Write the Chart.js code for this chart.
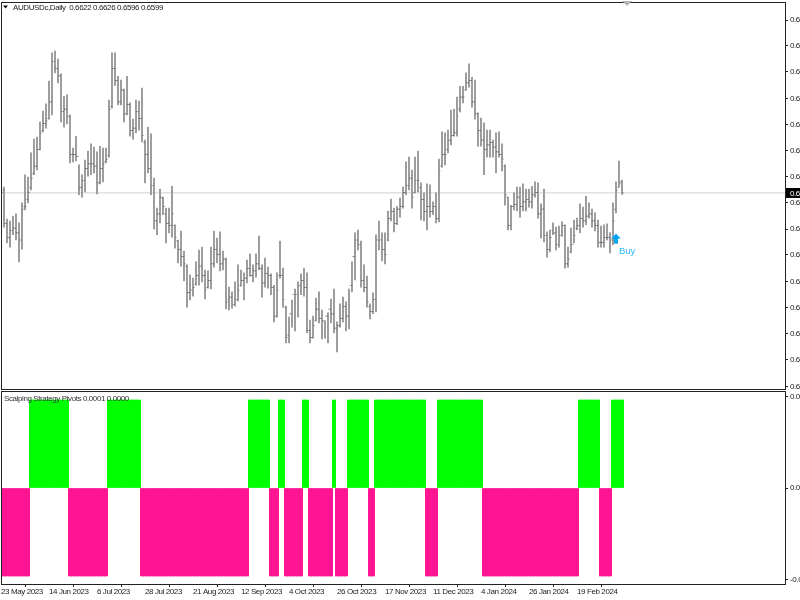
<!DOCTYPE html>
<html>
<head>
<meta charset="utf-8">
<title>AUDUSDc,Daily</title>
<script src="https://cdn.jsdelivr.net/npm/chart.js@4"></script>
<style>
html, body { margin: 0; background: #fff; }
canvas { position: absolute; left: 0; }
#priceChart { top: 0; }
#pivotChart { top: 391px; }
</style>
</head>
<body>
<canvas id="priceChart" width="800" height="391"></canvas>
<canvas id="pivotChart" width="800" height="209"></canvas>
<script>
// prices in points (0.6897 = 6897), one entry per daily bar
const highPts = [6658,6611,6544,6540,6550,6555,6536,6578,6637,6632,6683,6712,6716,6748,6771,6786,6834,6893,6897,6880,
  6849,6802,6805,6763,6693,6718,6658,6637,6668,6687,6702,6695,6685,6697,6693,6693,6794,6893,6893,6844,
  6836,6817,6844,6788,6754,6794,6792,6819,6710,6737,6723,6630,6567,6607,6590,6567,6567,6613,6532,6500,
  6519,6477,6448,6427,6420,6454,6479,6485,6437,6435,6485,6519,6504,6517,6477,6462,6401,6391,6412,6448,
  6437,6431,6458,6471,6448,6471,6508,6448,6462,6443,6429,6405,6431,6498,6441,6361,6338,6374,6397,6412,
  6429,6441,6431,6332,6340,6378,6391,6353,6330,6347,6376,6397,6328,6366,6380,6370,6397,6454,6515,6521,
  6498,6448,6424,6366,6389,6511,6540,6515,6515,6561,6586,6567,6571,6588,6611,6664,6674,6647,6674,6687,
  6620,6599,6618,6616,6580,6599,6670,6727,6725,6731,6773,6775,6800,6823,6823,6851,6870,6842,6836,6767,
  6756,6746,6731,6731,6710,6725,6727,6702,6658,6590,6573,6599,6611,6611,6618,6607,6607,6613,6622,6620,
  6576,6607,6517,6521,6536,6527,6529,6538,6532,6485,6525,6542,6546,6576,6569,6592,6578,6565,6557,6542,
  6529,6532,6534,6515,6578,6622,6666,6626];
const lowPts = [6553,6527,6494,6485,6511,6500,6454,6481,6563,6578,6605,6637,6647,6689,6727,6735,6754,6763,6851,6830,
  6748,6737,6744,6662,6664,6666,6595,6590,6601,6634,6637,6641,6597,6618,6622,6662,6674,6777,6825,6784,
  6784,6748,6763,6718,6712,6725,6731,6706,6620,6641,6595,6523,6511,6536,6553,6494,6515,6506,6483,6452,
  6445,6414,6359,6374,6382,6405,6405,6412,6376,6399,6397,6443,6452,6435,6437,6355,6353,6357,6361,6372,
  6403,6374,6410,6424,6412,6422,6437,6380,6401,6399,6385,6328,6338,6420,6359,6284,6284,6317,6309,6338,
  6385,6382,6305,6284,6294,6330,6326,6292,6294,6284,6326,6305,6265,6317,6328,6309,6313,6391,6416,6479,
  6401,6391,6359,6334,6345,6349,6479,6456,6450,6498,6540,6517,6532,6548,6567,6595,6605,6567,6599,6601,
  6542,6540,6521,6548,6553,6536,6538,6653,6658,6683,6700,6718,6718,6769,6788,6815,6821,6779,6754,6697,
  6697,6637,6674,6674,6674,6641,6674,6645,6573,6521,6521,6563,6561,6548,6561,6561,6569,6567,6590,6546,
  6504,6496,6464,6475,6511,6479,6485,6508,6441,6443,6473,6494,6521,6515,6527,6532,6546,6527,6519,6485,
  6485,6485,6500,6473,6490,6557,6611,6596];
const openPts = [6640,6605,6535,6505,6520,6525,6515,6500,6570,6585,6610,6640,6655,6690,6730,6745,6755,6790,6875,6860,
  6845,6770,6775,6760,6680,6680,6675,6610,6625,6650,6660,6660,6655,6620,6650,6665,6678,6780,6860,6835,
  6790,6815,6765,6785,6730,6735,6770,6755,6705,6680,6650,6615,6540,6555,6588,6555,6535,6530,6530,6498,
  6480,6465,6445,6390,6395,6406,6425,6445,6425,6400,6415,6450,6480,6470,6450,6460,6375,6380,6365,6375,
  6405,6415,6420,6440,6425,6435,6450,6440,6410,6430,6425,6400,6340,6425,6425,6358,6300,6345,6385,6385,
  6405,6415,6400,6310,6295,6330,6355,6335,6330,6340,6355,6345,6315,6320,6335,6360,6340,6405,6465,6500,
  6490,6415,6400,6360,6350,6375,6500,6500,6480,6500,6545,6560,6535,6565,6570,6600,6615,6630,6600,6625,
  6610,6585,6560,6570,6560,6570,6545,6655,6680,6690,6710,6720,6725,6775,6800,6815,6830,6835,6790,6765,
  6730,6710,6690,6700,6705,6695,6685,6680,6655,6590,6530,6570,6575,6590,6570,6580,6585,6580,6595,6600,
  6555,6565,6510,6480,6520,6515,6490,6510,6530,6450,6475,6490,6525,6530,6545,6540,6550,6555,6540,6530,
  6495,6495,6505,6505,6500,6565,6610,6622];
const closePts = [6600,6535,6505,6520,6525,6515,6500,6565,6570,6600,6630,6655,6690,6725,6745,6750,6790,6875,6860,6845,
  6770,6775,6760,6680,6680,6675,6610,6625,6650,6660,6660,6655,6620,6650,6660,6670,6775,6860,6835,6790,
  6815,6765,6785,6730,6735,6770,6755,6720,6680,6650,6615,6540,6555,6590,6570,6535,6530,6555,6505,6480,
  6465,6450,6390,6395,6400,6425,6445,6425,6395,6415,6450,6480,6470,6450,6460,6370,6380,6365,6375,6395,
  6415,6420,6440,6425,6435,6450,6440,6410,6430,6425,6400,6340,6395,6425,6375,6295,6345,6385,6385,6405,
  6415,6400,6310,6295,6320,6355,6335,6330,6340,6355,6345,6315,6320,6335,6360,6340,6405,6465,6500,6490,
  6415,6400,6370,6350,6375,6500,6500,6480,6470,6545,6560,6535,6565,6570,6600,6615,6630,6590,6625,6625,
  6585,6560,6570,6560,6570,6545,6645,6680,6680,6710,6720,6725,6760,6800,6800,6830,6835,6790,6765,6730,
  6710,6690,6700,6705,6695,6685,6680,6670,6595,6530,6570,6575,6590,6570,6580,6585,6580,6595,6600,6555,
  6565,6510,6480,6505,6515,6490,6510,6530,6450,6460,6490,6510,6530,6545,6540,6550,6555,6540,6530,6495,
  6495,6505,6505,6500,6540,6605,6620,6599];

// indicator value of each bar, in units of 0.0001
const pivotVals = [-1,-1,-1,-1,-1,-1,-1,-1,-1,-1, 1,1,1,1,1,1,1,1,1,1,1,1,1,
  -1,-1,-1,-1,-1,-1,-1,-1,-1,-1,-1,-1,-1, 1,1,1,1,1,1,1,1,1,1,1,
  -1,-1,-1,-1,-1,-1,-1,-1,-1,-1,-1,-1,-1,-1,-1,-1,-1,-1,-1,-1,-1,-1,-1,-1,-1,-1,-1,-1,-1,-1,-1,-1,-1,-1,-1,-1,
  1,1,1,1,1,1,1, -1,-1,-1, 1,1, -1,-1,-1,-1,-1,-1, 1,1, -1,-1,-1,-1,-1,-1,-1,-1, 1, -1,-1,-1,-1,
  1,1,1,1,1,1,1, -1,-1, 1,1,1,1,1,1,1,1,1,1,1,1,1,1,1,1,1, -1,-1,-1,-1,
  1,1,1,1,1,1,1,1,1,1,1,1,1,1,1,
  -1,-1,-1,-1,-1,-1,-1,-1,-1,-1,-1,-1,-1,-1,-1,-1,-1,-1,-1,-1,-1,-1,-1,-1,-1,-1,-1,-1,-1,-1,-1,-1,
  1,1,1,1,1,1,1, -1,-1,-1,-1, 1,1,1,1];

const dateBars = [0,16,32,48,64,80,96,112,128,144,160,176,192];
const dateLabels = ['23 May 2023','14 Jun 2023','6 Jul 2023','28 Jul 2023','21 Aug 2023','12 Sep 2023','4 Oct 2023',
  '26 Oct 2023','17 Nov 2023','11 Dec 2023','4 Jan 2024','26 Jan 2024','19 Feb 2024'];
const priceTicks = [0.6962,0.6908,0.6853,0.6797,0.6742,0.6687,0.6633,0.6578,0.6523,0.6469,0.6413,0.6358,0.6303,0.6248,0.6192];
const pivotTicks = [0.000104,0,-0.000104];
const lastPrice = 0.6599;
const buyBar = 205;
const buyPrice = 0.6503;

const fontName = '"Liberation Sans"';
const axisFont = { family: fontName, size: 8 };
const inkColor = '#222';
const barsMax = 784 / 3;

// keep the panes where the terminal has them, whatever the labels measure
function fixedAxis(w, h) {
  return s => {
    if (w) s.width = w;
    if (h) s.height = h;
    s.paddingLeft = s.paddingRight = s.paddingTop = s.paddingBottom = 0;
  };
}

// little arrow for the Buy signal
const buyArrow = document.createElement('canvas');
buyArrow.width = 12; buyArrow.height = 12;
const ac = buyArrow.getContext('2d');
ac.fillStyle = '#00a5f5';
ac.beginPath();
ac.moveTo(6, 1); ac.lineTo(11, 6); ac.lineTo(8, 6); ac.lineTo(8, 11); ac.lineTo(4, 11); ac.lineTo(4, 6); ac.lineTo(1, 6);
ac.closePath();
ac.fill();

// terminal font is narrower than anything installed, so tighten the text
const tightText = {
  id: 'tightText',
  beforeDraw(chart) { chart.ctx.letterSpacing = '-0.4px'; }
};

const frame = {
  id: 'frame',
  afterDraw(chart) {
    const { ctx, chartArea: a } = chart;
    ctx.save();
    ctx.strokeStyle = inkColor;
    ctx.lineWidth = 1;
    ctx.strokeRect(a.left + 0.5, a.top + 0.5, a.right - a.left, a.bottom - a.top);
    ctx.restore();
  }
};

const priceNotes = {
  id: 'priceNotes',
  afterDraw(chart) {
    const { ctx, scales } = chart;
    ctx.save();
    ctx.fillStyle = '#111';
    ctx.beginPath();
    ctx.moveTo(3, 5.5); ctx.lineTo(8, 5.5); ctx.lineTo(5.5, 8.5);
    ctx.fill();
    ctx.font = '8px ' + fontName;
    ctx.textBaseline = 'middle';
    ctx.fillStyle = '#222';
    ctx.fillText('AUDUSDc,Daily  0.6622 0.6626 0.6596 0.6599', 13, 7.5);
    // shift marker on top
    ctx.fillStyle = '#b4b4b4';
    ctx.beginPath();
    ctx.moveTo(622, 1); ctx.lineTo(632, 1); ctx.lineTo(627, 6);
    ctx.fill();
    // last price box
    const y = Math.round(scales.y.getPixelForValue(lastPrice));
    ctx.fillStyle = '#000';
    ctx.fillRect(786, y - 5, 14, 10);
    ctx.fillStyle = '#fff';
    ctx.fillText(lastPrice.toFixed(4), 790, y + 0.5);
    // signal label
    ctx.letterSpacing = '0px';
    ctx.fillStyle = '#2db8f5';
    ctx.font = '9.5px "Liberation Sans"';
    ctx.fillText('Buy', 619, scales.y.getPixelForValue(buyPrice) + 13);
    ctx.restore();
  }
};

const pivotNotes = {
  id: 'pivotNotes',
  afterDraw(chart) {
    const { ctx } = chart;
    ctx.save();
    ctx.font = '8px ' + fontName;
    ctx.textBaseline = 'middle';
    ctx.fillStyle = '#333';
    ctx.fillText('Scalping Strategy Pivots 0.0001 0.0000', 4, 7.5);
    ctx.restore();
  }
};

const priceChart = new Chart(document.getElementById('priceChart'), {
  type: 'bar',
  data: {
    datasets: [
      {
        type: 'line',
        data: [{ x: 0, y: lastPrice }, { x: barsMax, y: lastPrice }],
        borderColor: '#d0d0d0',
        borderWidth: 1,
        pointRadius: 0,
        order: 5
      },
      {
        data: highPts.map((h, i) => ({ x: i, y: [lowPts[i] / 10000, h / 10000] })),
        backgroundColor: '#9c9c9c',
        barThickness: 1.3,
        order: 4
      },
      {
        type: 'scatter',
        data: openPts.map((v, i) => ({ x: i - 0.33, y: v / 10000 })),
        backgroundColor: '#000',
        borderWidth: 0,
        pointStyle: 'rect',
        pointRadius: 0.5,
        order: 3
      },
      {
        type: 'scatter',
        data: closePts.map((v, i) => ({ x: i + 0.33, y: v / 10000 })),
        backgroundColor: '#000',
        borderWidth: 0,
        pointStyle: 'rect',
        pointRadius: 0.5,
        order: 2
      },
      {
        type: 'scatter',
        data: [{ x: buyBar, y: buyPrice }],
        pointStyle: buyArrow,
        order: 1
      }
    ]
  },
  options: {
    responsive: false,
    animation: false,
    events: [],
    layout: { autoPadding: false, padding: { left: 1, top: 2, right: 0, bottom: 2 } },
    plugins: { legend: { display: false }, tooltip: { enabled: false } },
    scales: {
      x: { type: 'linear', display: false, offset: false, min: 0, max: barsMax },
      y: {
        position: 'right',
        min: 0.6187,
        max: 0.7000,
        afterFit: fixedAxis(15),
        afterBuildTicks: s => { s.ticks = priceTicks.map(v => ({ value: v })); },
        border: { color: inkColor },
        grid: { drawOnChartArea: false, tickLength: 3, color: inkColor },
        ticks: { autoSkip: false, padding: 2, color: '#222', font: axisFont, callback: v => v.toFixed(4) }
      }
    }
  },
  plugins: [tightText, frame, priceNotes]
});

const pivotChart = new Chart(document.getElementById('pivotChart'), {
  type: 'bar',
  data: {
    datasets: [{
      data: pivotVals.map((v, i) => ({ x: i, y: v / 10000 })),
      backgroundColor: pivotVals.map(v => (v > 0 ? '#00ff00' : '#ff1493')),
      barThickness: 3.4
    }]
  },
  options: {
    responsive: false,
    animation: false,
    events: [],
    layout: { autoPadding: false, padding: { left: 1, top: 0, right: 0, bottom: 0 } },
    plugins: { legend: { display: false }, tooltip: { enabled: false } },
    scales: {
      x: {
        type: 'linear',
        offset: false,
        min: 0,
        max: barsMax,
        afterFit: fixedAxis(0, 16),
        afterBuildTicks: s => { s.ticks = dateBars.map(v => ({ value: v })); },
        border: { color: inkColor },
        grid: { drawOnChartArea: false, tickLength: 3, color: inkColor },
        ticks: {
          autoSkip: false, maxRotation: 0, align: 'start', padding: 0, color: '#222', font: axisFont,
          callback: v => dateLabels[dateBars.indexOf(v)]
        }
      },
      y: {
        position: 'right',
        min: -0.00010909,
        max: 0.00011023,
        afterFit: fixedAxis(15),
        afterBuildTicks: s => { s.ticks = pivotTicks.map(v => ({ value: v })); },
        border: { color: inkColor },
        grid: { drawOnChartArea: false, tickLength: 3, color: inkColor },
        ticks: { autoSkip: false, padding: 2, color: '#222', font: axisFont, callback: v => v.toFixed(4) }
      }
    }
  },
  plugins: [tightText, frame, pivotNotes]
});
</script>
</body>
</html>
